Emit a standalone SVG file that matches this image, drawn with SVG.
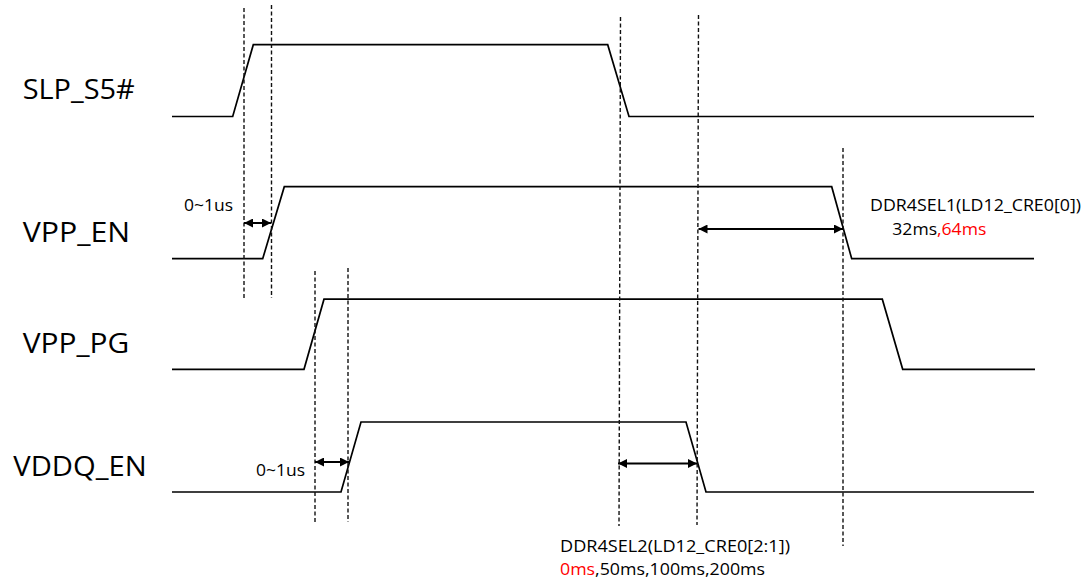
<svg xmlns="http://www.w3.org/2000/svg" width="1089" height="578" viewBox="0 0 1089 578">
<style>
.sig{fill:none;stroke:#000;stroke-width:1.7;stroke-linejoin:miter}
.dash{fill:none;stroke:#111;stroke-width:1.4;stroke-dasharray:4 2.5}
.arr{fill:none;stroke:#000;stroke-width:2;marker-start:url(#ah);marker-end:url(#ah)}
.lbl{font-family:"Open Sans","Liberation Sans",sans-serif;font-size:28px;fill:#000}
.note{font-family:"Open Sans","Liberation Sans",sans-serif;font-size:17px;fill:#000}
.red{fill:#FF0000}
</style>
<defs>
<marker id="ah" viewBox="0 0 10 10" refX="10" refY="5" markerUnits="userSpaceOnUse" markerWidth="10" markerHeight="9" orient="auto-start-reverse">
<path d="M0,0 L10,5 L0,10 z" fill="#000"/>
</marker>
</defs>
<rect width="1089" height="578" fill="#fff"/>
<g id="slp_s5">
<text class="lbl" x="22.7" y="99.3" textLength="112" lengthAdjust="spacingAndGlyphs">SLP_S5#</text>
<polyline class="sig" points="172,116.5 232.7,116.5 253.3,44.7 607.7,44.7 629,116.5 1034,116.5"/>
</g>
<g id="vpp_en">
<text class="lbl" x="22.7" y="242.3" textLength="107.3" lengthAdjust="spacingAndGlyphs">VPP_EN</text>
<polyline class="sig" points="172,258.7 262.7,258.7 284.3,186.7 831.7,186.7 851.7,258.7 1034,258.7"/>
</g>
<g id="vpp_pg">
<text class="lbl" x="22.7" y="353.3" textLength="106.6" lengthAdjust="spacingAndGlyphs">VPP_PG</text>
<polyline class="sig" points="172,369.3 304,369.3 324,299.2 882.3,299.2 902.7,369.3 1035,369.3"/>
</g>
<g id="vddq_en">
<text class="lbl" x="13.3" y="476" textLength="133.4" lengthAdjust="spacingAndGlyphs">VDDQ_EN</text>
<polyline class="sig" points="172,492 341,492 361,422 686,422 706,492 1034,492"/>
</g>
<g id="connectors">
<line class="dash" x1="244" y1="8" x2="244" y2="298"/>
<line class="dash" x1="271.5" y1="5" x2="271.5" y2="298"/>
<line class="dash" x1="315" y1="271" x2="315" y2="522"/>
<line class="dash" x1="348" y1="268" x2="348" y2="522"/>
<line class="dash" x1="620.5" y1="17" x2="619" y2="526"/>
<line class="dash" x1="698.5" y1="15" x2="697" y2="525"/>
<line class="dash" x1="843" y1="148" x2="843" y2="546"/>
<line class="arr" x1="244" y1="223" x2="271" y2="223"/>
<line class="arr" x1="698.5" y1="229" x2="843" y2="229"/>
<line class="arr" x1="315" y1="462" x2="349" y2="462"/>
<line class="arr" x1="618" y1="463.5" x2="697" y2="463.5"/>
</g>
<g id="annotations">
<text class="note" x="184" y="210.7" textLength="49" lengthAdjust="spacingAndGlyphs">0~1us</text>
<text class="note" x="256" y="476" textLength="49" lengthAdjust="spacingAndGlyphs">0~1us</text>
<text class="note" x="870" y="210.7" textLength="211" lengthAdjust="spacingAndGlyphs">DDR4SEL1(LD12_CRE0[0])</text>
<text class="note" x="892.3" y="235" textLength="94" lengthAdjust="spacingAndGlyphs">32ms<tspan class="red">,64ms</tspan></text>
<text class="note" x="560" y="551.5" textLength="230" lengthAdjust="spacingAndGlyphs">DDR4SEL2(LD12_CRE0[2:1])</text>
<text class="note" x="560" y="574.5" textLength="205" lengthAdjust="spacingAndGlyphs"><tspan class="red">0ms</tspan>,50ms,100ms,200ms</text>
</g>
</svg>
